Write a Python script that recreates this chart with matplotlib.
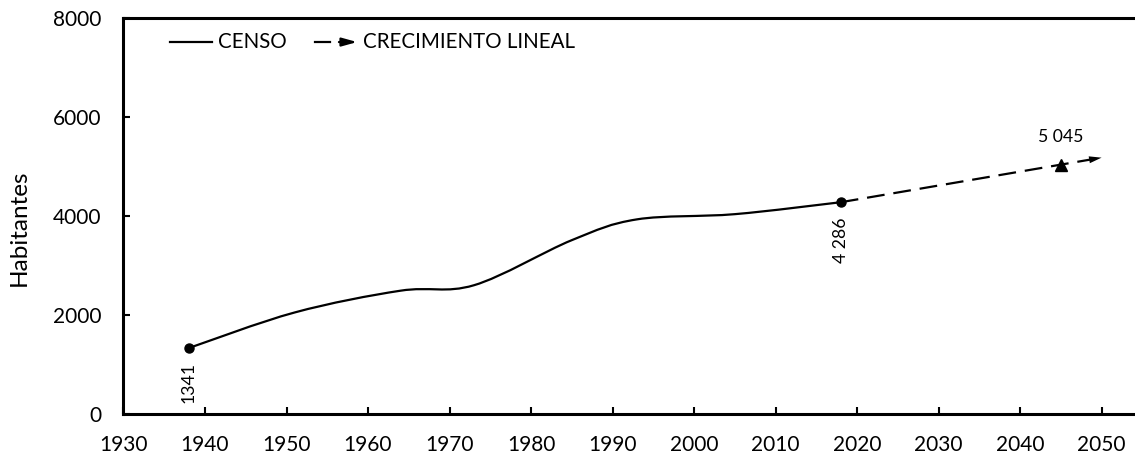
import numpy as np
import matplotlib
matplotlib.use("Agg")
import matplotlib.pyplot as plt
from matplotlib.path import Path
from matplotlib.patches import PathPatch

plt.rcParams["font.family"] = ["Lato", "DejaVu Sans"]

# Census population
census_years = [1938, 1951, 1964, 1973, 1985, 1993, 2005, 2018]
census_pop = [1341, 2060, 2500, 2610, 3520, 3940, 4045, 4286]

# Linear growth projection
proj_years = [2018, 2045, 2050]
proj_pop = [4286, 5045, 5186]

x_ticks = [1930, 1940, 1950, 1960, 1970, 1980, 1990, 2000, 2010, 2020, 2030, 2040, 2050]
y_ticks = [0, 2000, 4000, 6000, 8000]

legend_labels = ["CENSO", "CRECIMIENTO LINEAL"]
y_label = "Habitantes"


def smooth_path(xs, ys, tension=1 / 6):
    """Bezier path through the points, spreadsheet-style smoothed line."""
    p = np.column_stack([xs, ys]).astype(float)
    n = len(p)
    verts = [p[0]]
    codes = [Path.MOVETO]
    for i in range(n - 1):
        p_prev = p[i - 1] if i > 0 else p[i]
        p_next2 = p[i + 2] if i + 2 < n else p[i + 1]
        c1 = p[i] + (p[i + 1] - p_prev) * tension
        c2 = p[i + 1] - (p_next2 - p[i]) * tension
        verts += [c1, c2, p[i + 1]]
        codes += [Path.CURVE4] * 3
    return Path(verts, codes)


fig = plt.figure(figsize=(11.35, 4.57), dpi=100)
ax = fig.add_axes([0.1088, 0.093, 0.8912, 0.867])

# Census curve
ax.add_patch(PathPatch(smooth_path(census_years, census_pop), fill=False,
                       lw=1.6, edgecolor="black", capstyle="round"))

# Projection dashed line, stopping just short of the arrow head
slope = (proj_pop[-1] - proj_pop[-2]) / (proj_years[-1] - proj_years[-2])
ax.plot(proj_years[:-1] + [proj_years[-1] - 1.2],
        proj_pop[:-1] + [proj_pop[-1] - slope * 1.2],
        color="black", lw=1.6, dashes=(8, 4))
ax.annotate("", xy=(proj_years[-1], proj_pop[-1]),
            xytext=(proj_years[-2], proj_pop[-2]),
            arrowprops=dict(arrowstyle="-|>,head_length=0.9,head_width=0.25",
                            lw=0, color="black", shrinkA=0, shrinkB=0,
                            mutation_scale=10))

# Markers
ax.plot([census_years[0], census_years[-1]], [census_pop[0], census_pop[-1]],
        "o", color="black", markersize=6.5, zorder=5)
ax.plot([proj_years[1]], [proj_pop[1]], "^", color="black", markersize=8.5, zorder=5)


def fmt(v):
    return f"{v:,}".replace(",", " ")


ax.annotate(str(census_pop[0]), xy=(census_years[0], census_pop[0]),
            xytext=(0, -10), textcoords="offset points",
            rotation=90, ha="center", va="top", fontsize=12.7)
ax.annotate(fmt(census_pop[-1]), xy=(census_years[-1], census_pop[-1]),
            xytext=(0, -11), textcoords="offset points",
            rotation=90, ha="center", va="top", fontsize=12.7)
ax.annotate(fmt(proj_pop[1]), xy=(proj_years[1], proj_pop[1]),
            xytext=(0, 14), textcoords="offset points",
            ha="center", va="bottom", fontsize=12.7)

# Axes styling
ax.set_xlim(1930, 2054.1)
ax.set_ylim(0, 8000)
ax.set_xticks(x_ticks)
ax.set_yticks(y_ticks)
ax.tick_params(axis="both", direction="in", length=5, width=1.5, labelsize=15)
ax.tick_params(axis="y", pad=16)
ax.tick_params(axis="x", pad=15)
for side in ["left", "bottom", "top"]:
    ax.spines[side].set_linewidth(2.2)
ax.spines["right"].set_visible(False)

ax.set_ylabel(y_label, fontsize=17.5)
ax.yaxis.set_label_coords(-0.093, 0.471)

# Legend drawn in axes coordinates
ty = 0.940
ax.plot([0.046, 0.0875], [ty, ty], transform=ax.transAxes, color="black", lw=1.6)
ax.text(0.0934, ty, legend_labels[0], transform=ax.transAxes, fontsize=14.8,
        va="center", ha="left")
ax.plot([0.189, 0.204], [ty, ty], transform=ax.transAxes, color="black", lw=1.6)
ax.annotate("", xy=(0.231, ty), xytext=(0.213, ty), xycoords="axes fraction",
            textcoords="axes fraction",
            arrowprops=dict(arrowstyle="-|>,head_length=0.9,head_width=0.25",
                            lw=1.6, color="black", shrinkA=0, shrinkB=0,
                            mutation_scale=10))
ax.text(0.237, ty, legend_labels[1], transform=ax.transAxes, fontsize=14.8,
        va="center", ha="left")

fig.savefig("out.png", dpi=100)
